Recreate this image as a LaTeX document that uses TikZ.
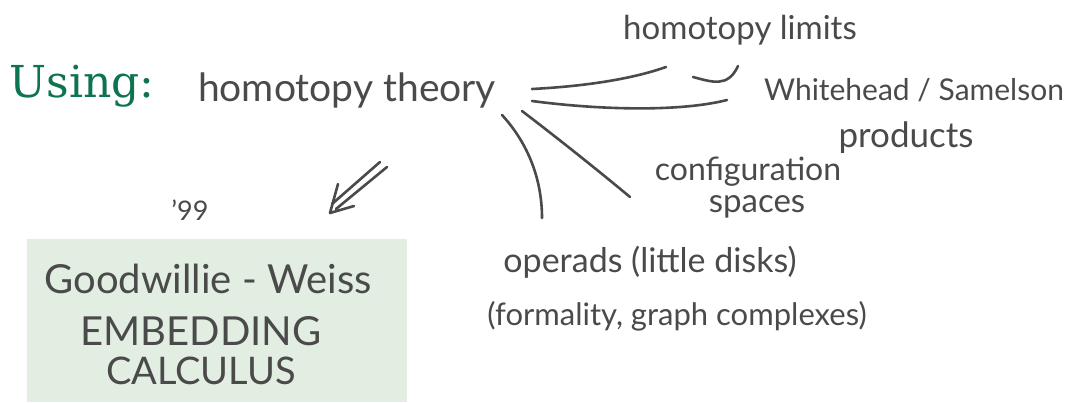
\documentclass[tikz,border=0pt]{standalone}
\usepackage{fontspec}
\setmainfont{Lato}
\newfontfamily\slabfont{DejaVu Serif}
\usepackage{xcolor}
\usetikzlibrary{arrows.meta,positioning,calc}

\definecolor{inkgrey}{HTML}{4A4A4A}
\definecolor{usinggreen}{HTML}{0E7352}
\definecolor{boxgreen}{HTML}{E3EEE3}

\tikzset{
    note/.style={text=inkgrey, inner sep=0pt, font=\fontsize{#1}{#1}\selectfont},
    note/.default=28,
    stroke/.style={draw=inkgrey, line width=2.6pt, line cap=round, line join=round}
}

\begin{document}
\begin{tikzpicture}[x=1pt,y=-1pt]
    \useasboundingbox (0,0) rectangle (1069,402);

    % heading and main topic
    \node[inner sep=0pt, text=usinggreen, font=\slabfont\fontsize{44}{44}\selectfont] (using) at (82,86) {Using:};
    \node[note=39] (theory) at (347,90) {homotopy theory};

    % branches
    \node[note=33] (limits) at (740,30) {homotopy limits};
    \node[note=30] (white) at (914,90) {Whitehead / Samelson};
    \node[note=35] (products) at (906,138) {products};
    \node[note=32] (config) at (748,172) {configuration};
    \node[note=33] (spaces) at (757,207) {spaces};
    \node[note=34] (operads) at (650,262) {operads (little disks)};
    \node[note=31] (formal) at (677,316) {(formality, graph complexes)};

    \coordinate (b1s) at (532,89);  \coordinate (b1e) at (666,67);
    \coordinate (b2s) at (532,101); \coordinate (b2e) at (727,100);
    \coordinate (b3s) at (502,115); \coordinate (b3e) at (542,218);
    \coordinate (b4s) at (522,111); \coordinate (b4e) at (630,197);

    \draw[stroke] (b1s) .. controls (590,86) and (635,78) .. (b1e);
    \draw[stroke] (693,77) .. controls (712,82) and (728,88) .. (738,66);
    \draw[stroke] (b2s) .. controls (600,110) and (680,112) .. (b2e);
    \draw[stroke] (b3s) .. controls (525,140) and (542,175) .. (b3e);
    \draw[stroke] (b4s) .. controls (560,140) and (600,172) .. (b4e);

    % implication towards the box
    \coordinate (arrtip) at (330,213);
    \draw[stroke] (387,167) -- ($(arrtip)+(6,-4)$);
    \draw[stroke] (380,162) -- ($(arrtip)+(2,-9)$);
    \draw[stroke] (338,184) -- (arrtip) -- (354,206);

    % result box
    \node[note=27] (year) at (190,210) {'99};
    \fill[boxgreen] (27,239) rectangle (407,402);
    \node[note=40] (gw) at (208,279) {Goodwillie - Weiss};
    \node[note=40] (embed) at (201,331) {EMBEDDING};
    \node[note=38] (calc) at (201,371) {CALCULUS};
\end{tikzpicture}
\end{document}
